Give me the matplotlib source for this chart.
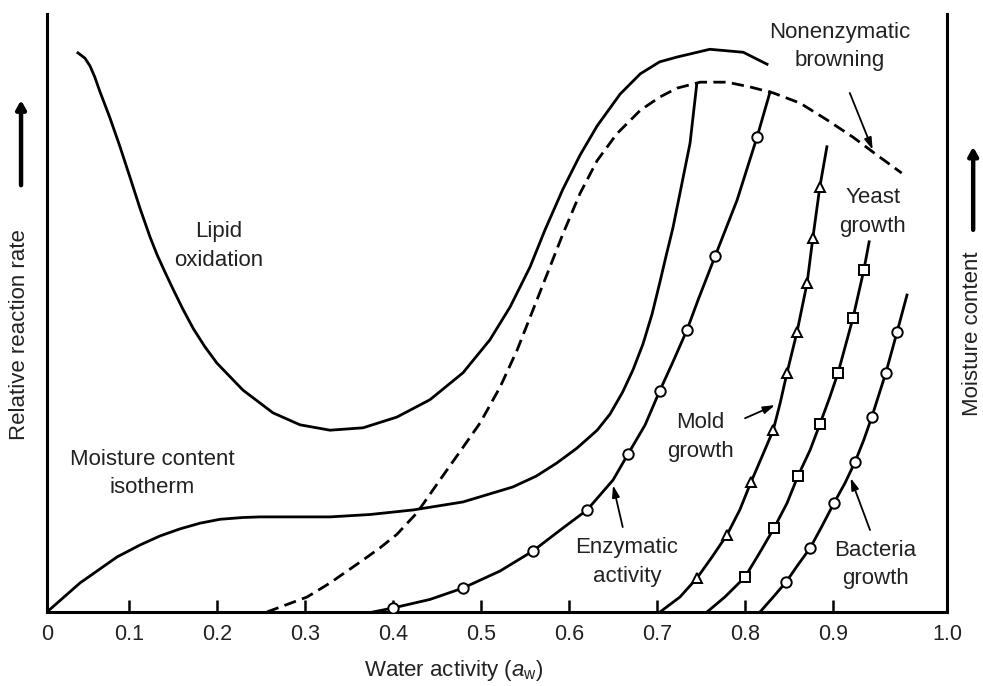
import matplotlib
matplotlib.use("Agg")
import matplotlib.pyplot as plt

plt.rcParams['font.family'] = ['Liberation Sans', 'DejaVu Sans']
plt.rcParams['mathtext.fontset'] = 'custom'
plt.rcParams['mathtext.rm'] = 'Liberation Sans'
plt.rcParams['mathtext.it'] = 'Liberation Sans:italic'

# water activity ticks (the "0" and "1.0" sit on the two vertical axes)
tick_pos = [0.0068, 0.1, 0.2, 0.3, 0.4, 0.5, 0.6, 0.7, 0.8, 0.9, 1.0295]
tick_lab = ['0', '0.1', '0.2', '0.3', '0.4', '0.5', '0.6', '0.7', '0.8', '0.9', '1.0']

# lipid oxidation (solid)
lipid_x = [0.042, 0.050, 0.0557, 0.061, 0.067, 0.0784, 0.090, 0.1011, 0.1125, 0.1239,
           0.132, 0.141, 0.150, 0.161, 0.173, 0.186, 0.200, 0.2295, 0.2636, 0.2943,
           0.3284, 0.366, 0.4045, 0.442, 0.4795, 0.510, 0.533, 0.5557, 0.5727, 0.593,
           0.6125, 0.632, 0.658, 0.681, 0.703, 0.7227, 0.760, 0.798, 0.825]
lipid_y = [0.935, 0.926, 0.913, 0.895, 0.870, 0.826, 0.777, 0.727, 0.675, 0.627,
           0.597, 0.568, 0.540, 0.507, 0.474, 0.444, 0.416, 0.371, 0.333, 0.313,
           0.304, 0.308, 0.326, 0.355, 0.400, 0.455, 0.510, 0.577, 0.639, 0.707,
           0.764, 0.813, 0.866, 0.900, 0.920, 0.928, 0.941, 0.936, 0.916]

# nonenzymatic browning (dashed)
brown_x = [0.2568, 0.3023, 0.3284, 0.366, 0.385, 0.4045, 0.4273, 0.4534, 0.476, 0.4989,
           0.5216, 0.541, 0.559, 0.578, 0.593, 0.6125, 0.632, 0.6545, 0.681, 0.703,
           0.7227, 0.749, 0.7795, 0.8057, 0.832, 0.8625, 0.893, 0.9227, 0.950, 0.978]
brown_y = [0.0, 0.025, 0.0485, 0.087, 0.107, 0.130, 0.166, 0.221, 0.268, 0.316,
           0.376, 0.438, 0.505, 0.576, 0.632, 0.700, 0.755, 0.800, 0.839, 0.861,
           0.876, 0.886, 0.886, 0.878, 0.868, 0.851, 0.823, 0.794, 0.764, 0.734]

# moisture sorption isotherm
iso_x = [0.0068, 0.0443, 0.0864, 0.1125, 0.135, 0.158, 0.1807, 0.2034, 0.2295, 0.2488,
         0.275, 0.3284, 0.3739, 0.4227, 0.4795, 0.536, 0.5625, 0.586, 0.609, 0.632,
         0.6466, 0.661, 0.6727, 0.684, 0.6943, 0.703, 0.7102, 0.718, 0.726, 0.7375, 0.745]
iso_y = [0.0, 0.0485, 0.092, 0.112, 0.127, 0.139, 0.1485, 0.155, 0.158, 0.159,
         0.159, 0.159, 0.163, 0.1706, 0.184, 0.209, 0.227, 0.249, 0.274, 0.304,
         0.331, 0.368, 0.405, 0.448, 0.498, 0.550, 0.595, 0.642, 0.700, 0.784, 0.881]

# enzymatic activity
enz_x = [0.3773, 0.400, 0.442, 0.4795, 0.5216, 0.559, 0.590, 0.6205, 0.650, 0.667,
         0.6864, 0.703, 0.718, 0.734, 0.7466, 0.766, 0.791, 0.8136, 0.8284]
enz_y = [0.0, 0.0067, 0.021, 0.040, 0.0685, 0.102, 0.137, 0.1706, 0.2207, 0.264,
         0.3127, 0.3696, 0.418, 0.4716, 0.5217, 0.595, 0.689, 0.794, 0.8696]
enz_mk_x = [0.400, 0.4795, 0.559, 0.6205, 0.667, 0.703, 0.734, 0.766, 0.8136]
enz_mk_y = [0.0067, 0.040, 0.102, 0.1706, 0.264, 0.3696, 0.4716, 0.595, 0.794]

# mold growth
mold_x = [0.7034, 0.726, 0.7455, 0.7625, 0.7795, 0.794, 0.8068, 0.819, 0.832, 0.840,
          0.8477, 0.859, 0.8705, 0.877, 0.885, 0.893]
mold_y = [0.0, 0.025, 0.0569, 0.092, 0.129, 0.1706, 0.2174, 0.259, 0.304, 0.350,
          0.400, 0.468, 0.550, 0.625, 0.711, 0.778]
mold_mk_x = [0.7455, 0.7795, 0.8068, 0.832, 0.8477, 0.859, 0.8705, 0.877, 0.885]
mold_mk_y = [0.0569, 0.129, 0.2174, 0.304, 0.400, 0.468, 0.550, 0.625, 0.711]

# yeast growth
yeast_x = [0.7568, 0.777, 0.800, 0.817, 0.833, 0.8477, 0.860, 0.874, 0.885, 0.896,
           0.9057, 0.9227, 0.935, 0.941]
yeast_y = [0.0, 0.025, 0.0585, 0.100, 0.1405, 0.182, 0.227, 0.271, 0.314, 0.358,
           0.400, 0.492, 0.572, 0.619]
yeast_mk_x = [0.800, 0.833, 0.860, 0.885, 0.9057, 0.9227, 0.935]
yeast_mk_y = [0.0585, 0.1405, 0.227, 0.314, 0.400, 0.492, 0.572]

# bacteria growth
bact_x = [0.817, 0.832, 0.8466, 0.860, 0.874, 0.8875, 0.901, 0.9136, 0.925, 0.935,
          0.944, 0.960, 0.9727, 0.984]
bact_y = [0.0, 0.025, 0.050, 0.0786, 0.107, 0.1438, 0.182, 0.2157, 0.251, 0.288,
          0.326, 0.400, 0.468, 0.530]
bact_mk_x = [0.8466, 0.874, 0.901, 0.925, 0.944, 0.960, 0.9727]
bact_mk_y = [0.050, 0.107, 0.182, 0.251, 0.326, 0.400, 0.468]

fig = plt.figure(figsize=(9.83, 6.86), dpi=100)
ax = fig.add_axes([0.0478, 0.1079, 0.9156, 0.8717])

lw = 2.0
ax.plot(lipid_x, lipid_y, color='k', lw=lw)
ax.plot(brown_x, brown_y, color='k', lw=lw, linestyle=(0, (4.4, 2.3)))
ax.plot(iso_x, iso_y, color='k', lw=lw)
ax.plot(enz_x, enz_y, color='k', lw=lw)
ax.plot(mold_x, mold_y, color='k', lw=lw)
ax.plot(yeast_x, yeast_y, color='k', lw=lw)
ax.plot(bact_x, bact_y, color='k', lw=lw)

mk = dict(linestyle='none', markerfacecolor='white', markeredgecolor='k',
          markeredgewidth=1.4, zorder=5)
ax.plot(enz_mk_x, enz_mk_y, marker='o', markersize=7.5, **mk)
ax.plot(mold_mk_x, mold_mk_y, marker='^', markersize=7.5, **mk)
ax.plot(yeast_mk_x, yeast_mk_y, marker='s', markersize=6.5, **mk)
ax.plot(bact_mk_x, bact_mk_y, marker='o', markersize=7.5, **mk)

# curve labels
fs = 16
txt = dict(ha='center', va='center', fontsize=fs, linespacing=1.45, color='#222222')
ax.text(0.2023, 0.612, 'Lipid\noxidation', **txt)
ax.text(0.126, 0.231, 'Moisture content\nisotherm', **txt)
ax.text(0.666, 0.0836, 'Enzymatic\nactivity', **txt)
ax.text(0.749, 0.2926, 'Mold\ngrowth', **txt)
ax.text(0.945, 0.669, 'Yeast\ngrowth', **txt)
ax.text(0.908, 0.946, 'Nonenzymatic\nbrowning', **txt)
ax.text(0.948, 0.080, 'Bacteria\ngrowth', **txt)

arr = dict(arrowstyle='-|>,head_length=0.7,head_width=0.22', lw=1.3, color='k',
           shrinkA=0, shrinkB=0)
ax.annotate('', xy=(0.650, 0.212), xytext=(0.661, 0.142), arrowprops=arr)
ax.annotate('', xy=(0.834, 0.346), xytext=(0.800, 0.324), arrowprops=arr)
ax.annotate('', xy=(0.945, 0.773), xytext=(0.919, 0.868), arrowprops=arr)
ax.annotate('', xy=(0.920, 0.224), xytext=(0.942, 0.137), arrowprops=arr)

ax.set_xlim(tick_pos[0], tick_pos[-1])
ax.set_ylim(0, 1)
ax.set_xticks(tick_pos)
ax.set_xticklabels(tick_lab, fontsize=15.5, color='#222222')
ax.set_yticks([])
ax.tick_params(axis='x', direction='in', length=9, width=1.8, pad=9)
ax.spines['top'].set_visible(False)
for s in ['left', 'right', 'bottom']:
    ax.spines[s].set_linewidth(2.2)

fig.text(0.462, 0.0233, r'Water activity ($a_{\rm w}$)', ha='center', va='center',
         fontsize=16, color='#222222')

# side axis titles with upward arrows
fig.text(0.0203, 0.5117, 'Relative reaction rate', rotation=90, ha='center',
         va='center', fontsize=16, color='#222222')
fig.text(0.989, 0.513, 'Moisture content', rotation=90, ha='center',
         va='center', fontsize=16, color='#222222')
big = dict(arrowstyle='-|>,head_length=0.5,head_width=0.28', lw=3.2, color='k',
           shrinkA=0, shrinkB=0)
ax.annotate('', xy=(0.0214, 0.854), xytext=(0.0214, 0.730), xycoords='figure fraction',
            textcoords='figure fraction', arrowprops=big, annotation_clip=False)
ax.annotate('', xy=(0.990, 0.786), xytext=(0.990, 0.665), xycoords='figure fraction',
            textcoords='figure fraction', arrowprops=big, annotation_clip=False)

fig.savefig('out.png', dpi=100)
